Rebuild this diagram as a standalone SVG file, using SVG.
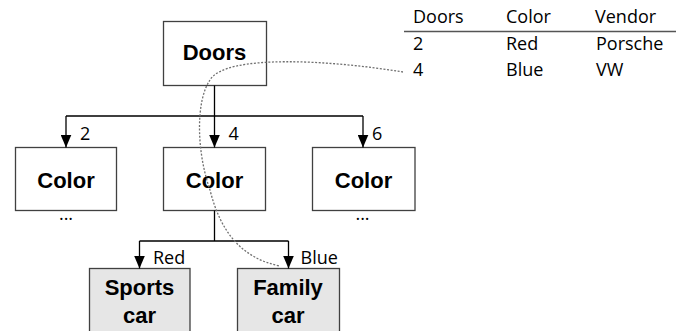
<svg xmlns="http://www.w3.org/2000/svg" width="676" height="331" viewBox="0 0 676 331">
  <style>
    .box { fill: #ffffff; stroke: #404040; stroke-width: 1.3; }
    .leaf { fill: #e6e6e6; stroke: #404040; stroke-width: 1.3; }
    .name { font-family: "Liberation Sans", Arial, sans-serif; font-weight: bold; font-size: 22px; fill: #000; text-anchor: middle; }
    .lbl { font-family: "Open Sans", "Noto Sans", sans-serif; font-size: 18px; fill: #000; }
    .edge { fill: none; stroke: #000; stroke-width: 1.3; }
    .trace { fill: none; stroke: #707070; stroke-width: 1.3; stroke-dasharray: 2 1.6; }
  </style>
  <defs>
    <marker id="arrow" markerUnits="userSpaceOnUse" viewBox="0 0 13 11" refX="13" refY="5.5" markerWidth="13" markerHeight="11" orient="auto">
      <path d="M0,0 L13,5.5 L0,11 z" fill="#000"/>
    </marker>
  </defs>

  <!-- table of example records -->
  <g id="table">
    <line x1="404" y1="31.5" x2="676" y2="31.5" stroke="#555" stroke-width="1.5"/>
    <text class="lbl" x="413" y="22.5">Doors</text>
    <text class="lbl" x="506" y="22.5">Color</text>
    <text class="lbl" x="595" y="22.5">Vendor</text>
    <text class="lbl" x="413" y="49.5">2</text>
    <text class="lbl" x="506" y="49.5">Red</text>
    <text class="lbl" x="596" y="49.5">Porsche</text>
    <text class="lbl" x="413" y="76">4</text>
    <text class="lbl" x="506" y="76">Blue</text>
    <text class="lbl" x="596" y="76">VW</text>
  </g>

  <g id="doors">
    <rect class="box" x="163.5" y="21.5" width="103" height="64"/>
    <text class="name" x="214.5" y="60">Doors</text>
  </g>

  <g id="color-2">
    <rect class="box" x="15.5" y="147.5" width="101" height="63"/>
    <text class="name" x="66" y="187.5">Color</text>
    <text class="lbl" x="66" y="219.5" text-anchor="middle" font-size="15">...</text>
  </g>

  <g id="color-4">
    <rect class="box" x="163.5" y="147.5" width="102" height="63"/>
    <text class="name" x="214.5" y="187.5">Color</text>
  </g>

  <g id="color-6">
    <rect class="box" x="312.5" y="147.5" width="102.5" height="63"/>
    <text class="name" x="363.5" y="187.5">Color</text>
    <text class="lbl" x="362.5" y="219.5" text-anchor="middle" font-size="15">...</text>
  </g>

  <g id="sports-car">
    <rect class="leaf" x="89.5" y="268.5" width="100.5" height="70"/>
    <text class="name" x="139.5" y="295">Sports</text>
    <text class="name" x="139.5" y="323">car</text>
  </g>

  <g id="family-car">
    <rect class="leaf" x="237.5" y="268.5" width="102" height="70"/>
    <text class="name" x="288" y="295">Family</text>
    <text class="name" x="288" y="323">car</text>
  </g>

  <!-- tree connectors, drawn over the nodes -->
  <g id="connectors">
    <path class="edge" d="M214.5,85.5 V116 M66,116 H363"/>
    <line class="edge" x1="66" y1="116" x2="66" y2="147.5" marker-end="url(#arrow)"/>
    <line class="edge" x1="214.5" y1="116" x2="214.5" y2="147.5" marker-end="url(#arrow)"/>
    <line class="edge" x1="363" y1="116" x2="363" y2="147.5" marker-end="url(#arrow)"/>
    <path class="edge" d="M214.5,210.5 V241 M139.5,241 H288.5"/>
    <line class="edge" x1="139.5" y1="241" x2="139.5" y2="268.5" marker-end="url(#arrow)"/>
    <line class="edge" x1="288.5" y1="241" x2="288.5" y2="268.5" marker-end="url(#arrow)"/>
    <text class="lbl" x="80" y="140">2</text>
    <text class="lbl" x="228.5" y="140">4</text>
    <text class="lbl" x="372" y="140">6</text>
    <text class="lbl" x="153" y="263.5">Red</text>
    <text class="lbl" x="300.5" y="263.5">Blue</text>
    <!-- path of the record "4 / Blue" through the tree -->
    <path class="trace" d="M403,72 C330,60 225,54 210,80 C196,100 196,150 210,190 C220,230 240,258 280,266"/>
  </g>
</svg>
